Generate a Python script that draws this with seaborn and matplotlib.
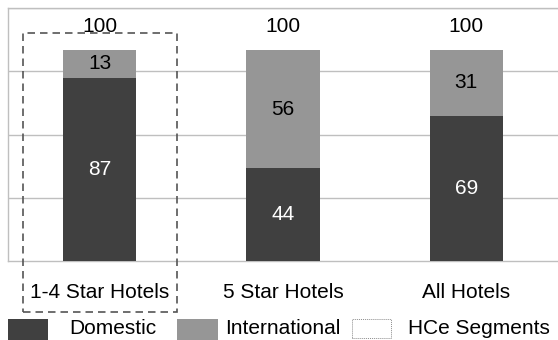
import matplotlib
matplotlib.use("Agg")
import matplotlib.pyplot as plt
from matplotlib.patches import Rectangle
import seaborn as sns
import pandas as pd

# Guest mix by hotel segment (share of guests, %)
categories = ["1-4 Star Hotels", "5 Star Hotels", "All Hotels"]
domestic = [87, 44, 69]
international = [13, 56, 31]
legend_labels = ["Domestic", "International", "HCe Segments"]

DARK = "#404040"
GREY = "#969696"
GRID = "#bfbfbf"

sns.set_theme(style="white")
plt.rcParams["font.family"] = ["Liberation Sans", "DejaVu Sans"]
plt.rcParams["font.size"] = 15

df = pd.DataFrame({
    "segment": categories,
    "domestic": domestic,
    "international": international,
})
df["total"] = df["domestic"] + df["international"]

W, H = 558, 340
fig = plt.figure(figsize=(W / 100, H / 100), dpi=100)
ax = fig.add_axes([8 / W, (H - 261) / H, 1 - 8 / W, (261 - 8) / H])

# Stacked bars: full height in grey, domestic share drawn over it in dark
sns.barplot(data=df, x="segment", y="total", color=GREY, width=0.4,
            saturation=1, linewidth=0, edgecolor="none", ax=ax, zorder=2)
sns.barplot(data=df, x="segment", y="domestic", color=DARK, width=0.4,
            saturation=1, linewidth=0, edgecolor="none", ax=ax, zorder=3)

ax.set_xlim(-0.5, 2.5)
ax.set_ylim(0, 120)
ax.set_yticks([30, 60, 90, 120])
ax.yaxis.grid(True, color=GRID, linewidth=1)
ax.set_axisbelow(True)
ax.tick_params(axis="y", left=False, labelleft=False)
ax.tick_params(axis="x", bottom=False, pad=10, labelsize=15, colors="black")
ax.set_xlabel("")
ax.set_ylabel("")
for side in ["top", "left", "bottom"]:
    ax.spines[side].set_color(GRID)
    ax.spines[side].set_linewidth(1)
ax.spines["right"].set_visible(False)

# Segment value labels
for i, row in df.iterrows():
    d, t = row["domestic"], row["total"]
    ax.text(i, d / 2, f"{d}", ha="center", va="center", color="white",
            fontsize=15, zorder=5)
    ax.text(i, d + (t - d) / 2, f"{row['international']}", ha="center",
            va="center", color="black", fontsize=15, zorder=5)
    ax.annotate(f"{t}", xy=(i, t), xytext=(0, 17.3), textcoords="offset points",
                ha="center", va="center", color="black", fontsize=15)

# Highlight box around the 1-4 star segment
box = Rectangle((-0.418, -24.2), 0.84, 132.2, fill=False, edgecolor="#555555",
                linewidth=1.2, linestyle=(0, (4.5, 3)), clip_on=False, zorder=6)
ax.add_patch(box)

# Legend row along the bottom
def fig_rect(x0, y0, x1, y1, **kw):
    fig.add_artist(Rectangle((x0 / W, 1 - y1 / H), (x1 - x0) / W, (y1 - y0) / H,
                             transform=fig.transFigure, **kw))

fig_rect(8, 319, 48, 340, facecolor=DARK, edgecolor="none")
fig_rect(177, 319, 218, 340, facecolor=GREY, edgecolor="none")
fig_rect(352, 319, 391, 338, facecolor="white", edgecolor="#8c8c8c",
         linewidth=0.7, linestyle=(0, (1, 1)))
for x, lab in zip([69, 225, 408], legend_labels):
    fig.text(x / W, 1 - 328 / H, lab, ha="left", va="center", fontsize=15,
             color="black")

fig.savefig("out.png", dpi=100)
